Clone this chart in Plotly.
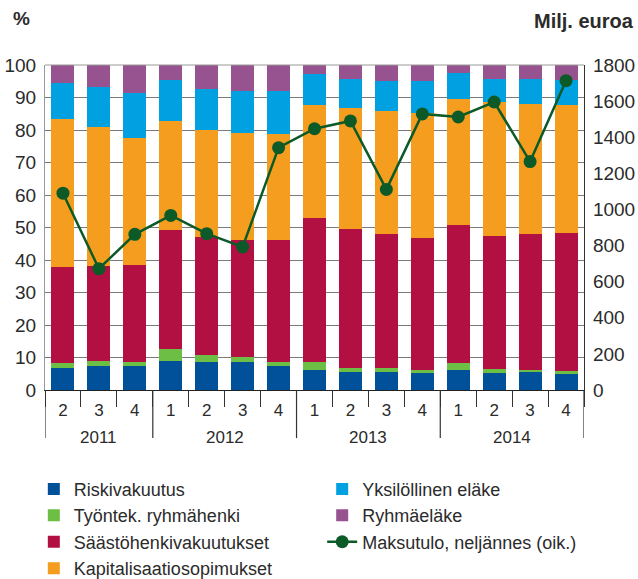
import plotly.graph_objects as go

years = ["2011"] * 3 + ["2012"] * 4 + ["2013"] * 4 + ["2014"] * 4
quarters = ["2", "3", "4", "1", "2", "3", "4", "1", "2", "3", "4", "1", "2", "3", "4"]

riskivakuutus = [6.9, 7.5, 7.5, 8.9, 8.6, 8.6, 7.5, 6.3, 5.5, 5.5, 5.2, 6.2, 5.2, 5.5, 4.9]
tyontek = [1.4, 1.4, 1.1, 3.7, 2.2, 1.6, 1.1, 2.3, 1.3, 1.3, 1.0, 2.1, 1.3, 0.7, 0.9]
saastohenki = [29.5, 29.3, 29.9, 36.6, 36.3, 36.0, 37.6, 44.3, 42.7, 41.2, 40.6, 42.5, 40.9, 41.8, 42.5]
kapitalisaatio = [45.6, 42.7, 39.0, 33.6, 32.9, 32.9, 32.6, 34.8, 37.3, 37.8, 38.4, 38.7, 41.2, 40.0, 39.4]
yksilollinen = [11.1, 12.3, 13.9, 12.6, 12.6, 12.9, 13.2, 9.5, 8.9, 9.3, 9.9, 8.0, 7.1, 7.7, 7.7]
ryhmaelake = [5.5, 6.8, 8.6, 4.6, 7.4, 8.0, 8.0, 2.8, 4.3, 4.9, 4.9, 2.5, 4.3, 4.3, 4.6]
maksutulo = [1090, 672, 862, 967, 866, 792, 1342, 1447, 1490, 1111, 1529, 1512, 1595, 1265, 1713]

FONT = "Liberation Sans, Arial, sans-serif"
LEGFONT = "Liberation Sans, Arial, sans-serif"
TXT = "#2b2b2b"

xpos = list(range(len(quarters)))

series = [
    ("Riskivakuutus", riskivakuutus, "#00519A", "legend", 1),
    ("Työntek. ryhmähenki", tyontek, "#6DBE45", "legend", 2),
    ("Säästöhenkivakuutukset", saastohenki, "#B21042", "legend", 3),
    ("Kapitalisaatiosopimukset", kapitalisaatio, "#F59D1E", "legend", 4),
    ("Yksilöllinen eläke", yksilollinen, "#00A0E1", "legend2", 1),
    ("Ryhmäeläke", ryhmaelake, "#97538F", "legend2", 2),
]

fig = go.Figure()
for name, vals, col, leg, rank in series:
    fig.add_trace(go.Bar(
        x=xpos, y=vals, name=name, marker=dict(color=col, line=dict(width=0)),
        legend=leg, legendrank=rank, legendgroup=name,
    ))

fig.add_trace(go.Scatter(
    x=xpos, y=maksutulo, name="Maksutulo, neljännes (oik.)", yaxis="y2",
    mode="lines+markers", line=dict(color="#0B5A28", width=2.5),
    marker=dict(color="#0B5A28", size=13), legend="legend2", legendrank=3,
    legendgroup="maksu",
))

# year group labels and dividers, derived from the category lists
year_names = []
for y in years:
    if y not in year_names:
        year_names.append(y)
annotations = []
shapes = []
bounds = [-0.5]
for yname in year_names:
    idx = [i for i, y in enumerate(years) if y == yname]
    annotations.append(dict(
        text=yname, x=sum(idx) / len(idx), xref="x", y=-0.145, yref="paper",
        showarrow=False, xanchor="center", yanchor="middle",
        font=dict(family=FONT, size=17, color=TXT),
    ))
    bounds.append(idx[-1] + 0.5)
for b in bounds:
    shapes.append(dict(type="line", xref="x", yref="paper", x0=b, x1=b,
                       y0=0, y1=-0.148, line=dict(color="#333", width=1.2)))

annotations += [
    dict(text="<b>%</b>", xref="paper", yref="paper", x=-0.063, y=1.142,
         xanchor="left", yanchor="middle", showarrow=False,
         font=dict(family=FONT, size=19, color=TXT)),
    dict(text="<b>Milj. euroa</b>", xref="paper", yref="paper", x=1.096, y=1.136,
         xanchor="right", yanchor="middle", showarrow=False,
         font=dict(family=FONT, size=20, color=TXT)),
]
shapes.append(dict(type="line", xref="paper", yref="paper", x0=0, x1=1, y0=1, y1=1,
                   line=dict(color="#999", width=1)))

legend_common = dict(
    orientation="v", font=dict(family=LEGFONT, size=18, color=TXT),
    bgcolor="rgba(0,0,0,0)", tracegroupgap=0, traceorder="grouped",
    xref="container", yref="container",
    xanchor="left", yanchor="top", itemclick=False,
)

fig.update_layout(
    width=638, height=579,
    margin=dict(l=45, r=54, t=65, b=189, autoexpand=False),
    paper_bgcolor="white", plot_bgcolor="white",
    barmode="stack", bargap=0.36,
    font=dict(family=FONT, size=18, color=TXT),
    showlegend=True,
    legend=dict(x=0.053, y=0.187, **legend_common),
    legend2=dict(x=0.505, y=0.187, **legend_common),
    xaxis=dict(
        range=[-0.5, len(quarters) - 0.5], tickvals=xpos, ticktext=quarters,
        ticks="", showgrid=False, showline=True, linecolor="#222", linewidth=1.2,
        zeroline=False, ticklabelstandoff=4,
        tickfont=dict(family=FONT, size=17, color=TXT),
        minor=dict(tick0=-0.5, dtick=1, ticks="outside", ticklen=16,
                   tickcolor="#333", tickwidth=1.2, showgrid=False),
        automargin=False, fixedrange=True,
    ),
    yaxis=dict(
        range=[0, 100], dtick=10, showgrid=True, gridcolor="#7a7a7a", gridwidth=1,
        showline=True, linecolor="#999", linewidth=1, ticks="",
        tickfont=dict(family=FONT, size=19, color=TXT), zeroline=False,
        automargin=False, fixedrange=True, ticklabelstandoff=4,
    ),
    yaxis2=dict(
        range=[0, 1800], dtick=200, overlaying="y", side="right",
        showgrid=False, showline=True, linecolor="#333", linewidth=1.2, ticks="",
        tickfont=dict(family=FONT, size=19, color=TXT), zeroline=False,
        automargin=False, fixedrange=True, ticklabelstandoff=4,
    ),
    annotations=annotations,
    shapes=shapes,
)

fig.write_html(
    "out.html",
    config={"displayModeBar": False},
    post_script="document.body.style.margin='0';document.body.style.overflow='hidden';",
)
